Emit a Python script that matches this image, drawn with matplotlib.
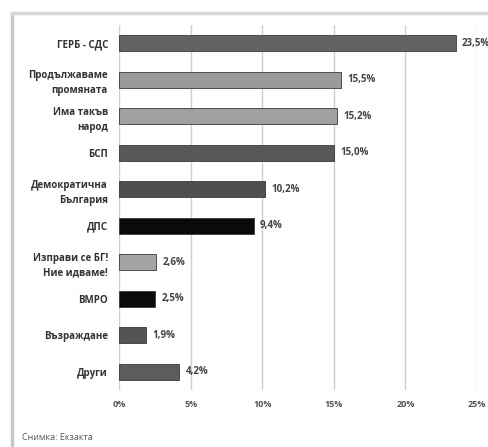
import matplotlib.pyplot as plt
from matplotlib.lines import Line2D

parties = ["ГЕРБ - СДС", "Продължаваме\nпромяната", "Има такъв\nнарод", "БСП",
           "Демократична\nБългария", "ДПС", "Изправи се БГ!\nНие идваме!", "ВМРО",
           "Възраждане", "Други"]
values = [23.5, 15.5, 15.2, 15.0, 10.2, 9.4, 2.6, 2.5, 1.9, 4.2]
value_labels = ["23,5%", "15,5%", "15,2%", "15,0%", "10,2%", "9,4%", "2,6%", "2,5%", "1,9%", "4,2%"]
colors = ["#626262", "#9a9a9a", "#a0a0a0", "#585858", "#4f4f4f", "#0a0a0a",
          "#a4a4a4", "#0a0a0a", "#545454", "#5c5c5c"]
ticks = [0, 5, 10, 15, 20, 25]
tick_labels = ["0%", "5%", "10%", "15%", "20%", "25%"]

plt.rcParams['font.family'] = ['Open Sans', 'DejaVu Sans']

fig = plt.figure(figsize=(4.89, 4.47), dpi=100)
fig.patch.set_facecolor("white")
ax = fig.add_axes([0.2434, 0.1275, 0.7321, 0.8165])

pos = list(range(len(parties)))
ax.barh(pos, values, height=0.44, color=colors, edgecolor="#3a3a3a", linewidth=0.6, zorder=3)
for y, v, lab in zip(pos, values, value_labels):
    ax.text(v + 0.45, y, lab, va="center", ha="left", fontsize=7,
            fontweight="bold", color="#444444", clip_on=False)

ax.set_xlim(0, 25)
ax.set_ylim(len(parties) - 0.5, -0.5)
ax.set_yticks(pos)
ax.set_yticklabels(parties, fontsize=7, fontweight="bold", color="#333333", linespacing=1.5)
ax.set_xticks(ticks)
ax.set_xticklabels(tick_labels, fontsize=6.5, fontweight="bold", color="#555555")
ax.tick_params(length=0, pad=7)
ax.tick_params(axis="y", pad=8)
ax.grid(axis="x", color="#cfcfcf", linewidth=1.0, zorder=0)
for s in ax.spines.values():
    s.set_visible(False)

# card border (photo frame)
fig.add_artist(Line2D([12 / 489, 12 / 489], [0, 1 - 14 / 447], color="#c8c8c8", linewidth=2.5))
fig.add_artist(Line2D([12 / 489, 1], [1 - 13 / 447, 1 - 13 / 447], color="#d8d8d8", linewidth=2.5))

fig.text(22 / 489, 1 - 437 / 447, "Снимка: Екзакта", fontsize=6.5, color="#555555", va="center")

fig.savefig("out.png", dpi=100)
